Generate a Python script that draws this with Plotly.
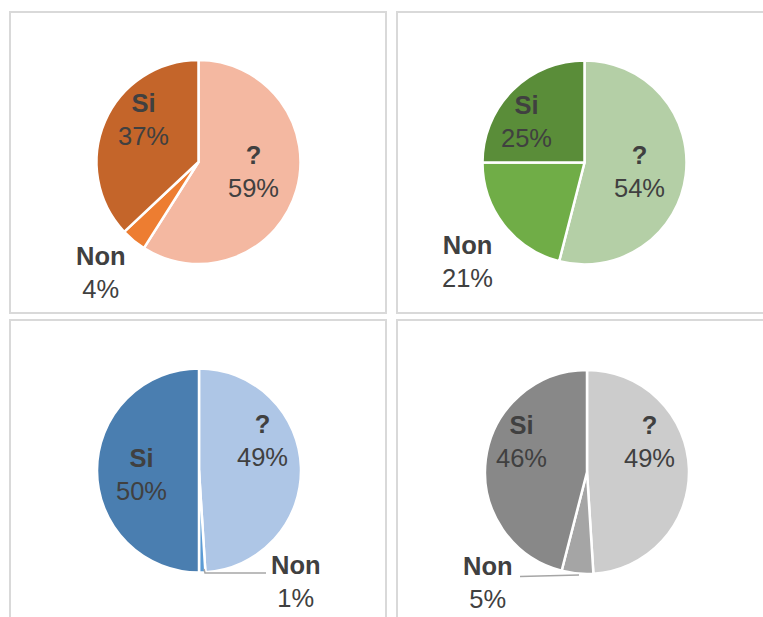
# coding: utf-8

# https://plotly.com/python
import plotly.graph_objects as go

# Data
labels = ['?', 'Non', 'Si']
values_1 = [59, 4, 37]
values_2 = [54, 21, 25]
values_3 = [49, 1, 50]
values_4 = [49, 5, 46]

colors_1 = ['#F4B8A1', '#ED7D31', '#C4652A']
colors_2 = ['#B4CFA6', '#70AD47', '#5A8D39']
colors_3 = ['#AEC6E6', '#5B9BD5', '#4A7EB0']
colors_4 = ['#CCCCCC', '#A5A5A5', '#888888']

# Body margin is removed in the page, so the figure fills the window
W, H = 763, 617
textcolor = '#404040'
fontfamily = 'Liberation Sans, Arial, sans-serif'


def px(x):
    return x / W


def py(y):
    return 1 - y / H


# Panel settings: pie centre, radius, label centres per slice (in window pixels)
panels = [
    dict(values=values_1, colors=colors_1, center=(198.5, 162), r=102,
         textpos=[(253, 171), (101, 272), (143, 120)]),
    dict(values=values_2, colors=colors_2, center=(584.5, 162.5), r=102,
         textpos=[(639.5, 171), (467, 261), (526, 121)]),
    dict(values=values_3, colors=colors_3, center=(199, 470.5), r=102,
         textpos=[(262, 440), (296, 581), (141.5, 474)]),
    dict(values=values_4, colors=colors_4, center=(587, 472), r=102,
         textpos=[(649, 441), (488, 582), (521.5, 441)]),
]

fig = go.Figure()
annotations = []

for panel in panels:
    cx, cy = panel['center']
    r = panel['r']
    fig.add_trace(
        go.Pie(
            labels=labels,
            values=panel['values'],
            sort=False,
            direction='clockwise',
            rotation=0,
            textinfo='none',
            hoverinfo='label+percent',
            showlegend=False,
            marker=dict(colors=panel['colors'],
                        line=dict(color='white', width=2.5)),
            domain=dict(x=[px(cx - r), px(cx + r)],
                        y=[py(cy + r), py(cy - r)])))

    # Data labels
    for label, value, (tx, ty) in zip(labels, panel['values'], panel['textpos']):
        annotations.append(dict(
            x=px(tx), y=py(ty), xref='paper', yref='paper',
            xanchor='center', yanchor='middle', showarrow=False,
            text=f'<b>{label}</b><br>{value}%',
            font=dict(family=fontfamily, size=25.5, color=textcolor)))

# Panel borders
border = dict(color='#D9D9D9', width=2)
shapes = [
    dict(type='rect', xref='paper', yref='paper',
         x0=px(10), x1=px(386), y0=py(313), y1=py(12), line=border),
    dict(type='rect', xref='paper', yref='paper',
         x0=px(397), x1=px(790), y0=py(313), y1=py(12), line=border),
    dict(type='rect', xref='paper', yref='paper',
         x0=px(10), x1=px(386), y0=py(640), y1=py(320), line=border),
    dict(type='rect', xref='paper', yref='paper',
         x0=px(397), x1=px(790), y0=py(640), y1=py(320), line=border),
]

# Leader lines for the small slices
leader = dict(color='#A6A6A6', width=1.5)
shapes.append(dict(type='path', xref='paper', yref='paper',
                   path=f'M {px(204)} {py(569)} L {px(205)} {py(573)} L {px(266)} {py(573)}',
                   line=leader))
shapes.append(dict(type='line', xref='paper', yref='paper',
                   x0=px(579), y0=py(575), x1=px(520), y1=py(576.5),
                   line=leader))

fig.update_layout(
    width=W,
    height=H,
    margin=dict(l=0, r=0, t=0, b=0),
    paper_bgcolor='white',
    plot_bgcolor='white',
    annotations=annotations,
    shapes=shapes,
)

fig.write_html("out.html",
               config={'displayModeBar': False},
               post_script="document.body.style.margin='0';document.body.style.overflow='hidden';")
